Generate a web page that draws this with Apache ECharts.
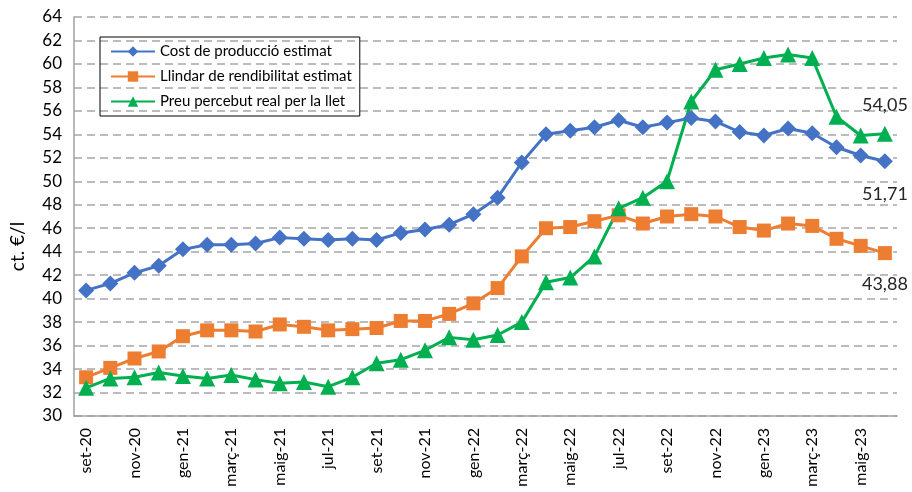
<!DOCTYPE html>
<html>
<head>
<meta charset="utf-8">
<script src="https://cdn.jsdelivr.net/npm/echarts@6/dist/echarts.min.js"></script>
<style>
  html, body { margin: 0; padding: 0; background: #fff; }
  #chart { width: 912px; height: 492px; }
</style>
</head>
<body>
<div id="chart"></div>
<script>
var months = [
  'set-20', 'oct-20', 'nov-20', 'des-20',
  'gen-21', 'febr-21', 'març-21', 'abr-21', 'maig-21', 'juny-21', 'jul-21', 'ag-21', 'set-21', 'oct-21', 'nov-21', 'des-21',
  'gen-22', 'febr-22', 'març-22', 'abr-22', 'maig-22', 'juny-22', 'jul-22', 'ag-22', 'set-22', 'oct-22', 'nov-22', 'des-22',
  'gen-23', 'febr-23', 'març-23', 'abr-23', 'maig-23', 'juny-23'
]

var costProduccio = [
  40.7, 41.3, 42.2, 42.8,
  44.2, 44.6, 44.6, 44.7, 45.2, 45.1, 45.0, 45.1, 45.0, 45.6, 45.9, 46.3,
  47.2, 48.6, 51.6, 54.0, 54.3, 54.6, 55.2, 54.6, 55.0, 55.4, 55.1, 54.2,
  53.9, 54.5, 54.1, 52.9, 52.2, 51.71
]

var llindarRendibilitat = [
  33.3, 34.1, 34.9, 35.5,
  36.8, 37.3, 37.3, 37.2, 37.8, 37.6, 37.3, 37.4, 37.5, 38.1, 38.1, 38.7,
  39.6, 40.9, 43.6, 46.0, 46.1, 46.6, 47.1, 46.4, 47.0, 47.2, 47.0, 46.1,
  45.8, 46.4, 46.2, 45.1, 44.5, 43.88
]

var preuPercebut = [
  32.4, 33.2, 33.3, 33.7,
  33.4, 33.2, 33.5, 33.1, 32.8, 32.9, 32.5, 33.3, 34.5, 34.8, 35.6, 36.7,
  36.5, 36.9, 38.0, 41.4, 41.8, 43.6, 47.7, 48.6, 50.0, 56.8, 59.5, 60.0,
  60.5, 60.8, 60.5, 55.5, 53.9, 54.05
]

var chart = echarts.init(document.getElementById('chart'))

// only the last point gets its value written next to it
function withLastLabel (values, position, distance) {
  return values.map(function (v, i) {
    if (i !== values.length - 1) return v
    return {
      value: v,
      label: {
        show: true,
        position: position,
        distance: distance,
        fontFamily: 'Lato',
        fontSize: 18,
        color: '#262626',
        formatter: function (p) {
          return p.value.toFixed(2).replace('.', ',')
        }
      }
    }
  })
}

chart.setOption({
  animation: false,
  textStyle: { fontFamily: 'Lato' },
  grid: {
    left: 73,
    right: 15,
    top: 17,
    bottom: 76
  },
  legend: {
    orient: 'vertical',
    left: 100,
    top: 37,
    padding: [7, 8, 7, 10],
    itemGap: 10,
    itemWidth: 44,
    itemHeight: 13,
    borderColor: '#000',
    borderWidth: 1,
    textStyle: { fontSize: 15, color: '#000', fontFamily: 'Lato' },
    data: ['Cost de producció estimat', 'Llindar de rendibilitat estimat', 'Preu percebut real per la llet']
  },
  xAxis: {
    type: 'category',
    data: months,
    boundaryGap: true,
    axisLine: { lineStyle: { color: '#a0a0a0', width: 1.5 } },
    axisTick: { interval: 1, length: 7, lineStyle: { color: '#a0a0a0', width: 1.5 } },
    axisLabel: {
      interval: 1,
      rotate: 90,
      margin: 12,
      fontSize: 16,
      color: '#000'
    }
  },
  yAxis: {
    type: 'value',
    min: 30,
    max: 64,
    interval: 2,
    name: 'ct. €/l',
    nameLocation: 'middle',
    nameGap: 47,
    nameTextStyle: { fontSize: 19, color: '#000', padding: [0, 60, 0, 0] },
    axisLine: { show: true, lineStyle: { color: '#a0a0a0', width: 1.5 } },
    axisTick: { show: false },
    axisLabel: { fontSize: 17, color: '#000', margin: 12 },
    splitLine: { lineStyle: { color: '#a6a6a6', type: [8, 5], width: 1.5 } }
  },
  series: [
    {
      name: 'Cost de producció estimat',
      type: 'line',
      data: withLastLabel(costProduccio, 'bottom', 16),
      symbol: 'diamond',
      symbolSize: 16,
      lineStyle: { color: '#4472C4', width: 3 },
      itemStyle: { color: '#4472C4' }
    },
    {
      name: 'Llindar de rendibilitat estimat',
      type: 'line',
      data: withLastLabel(llindarRendibilitat, 'bottom', 15),
      symbol: 'rect',
      symbolSize: 14,
      lineStyle: { color: '#ED7D31', width: 3 },
      itemStyle: { color: '#ED7D31' }
    },
    {
      name: 'Preu percebut real per la llet',
      type: 'line',
      data: withLastLabel(preuPercebut, 'top', 12),
      symbol: 'triangle',
      symbolSize: 16,
      lineStyle: { color: '#00B050', width: 3 },
      itemStyle: { color: '#00B050' }
    }
  ]
})
</script>
</body>
</html>
